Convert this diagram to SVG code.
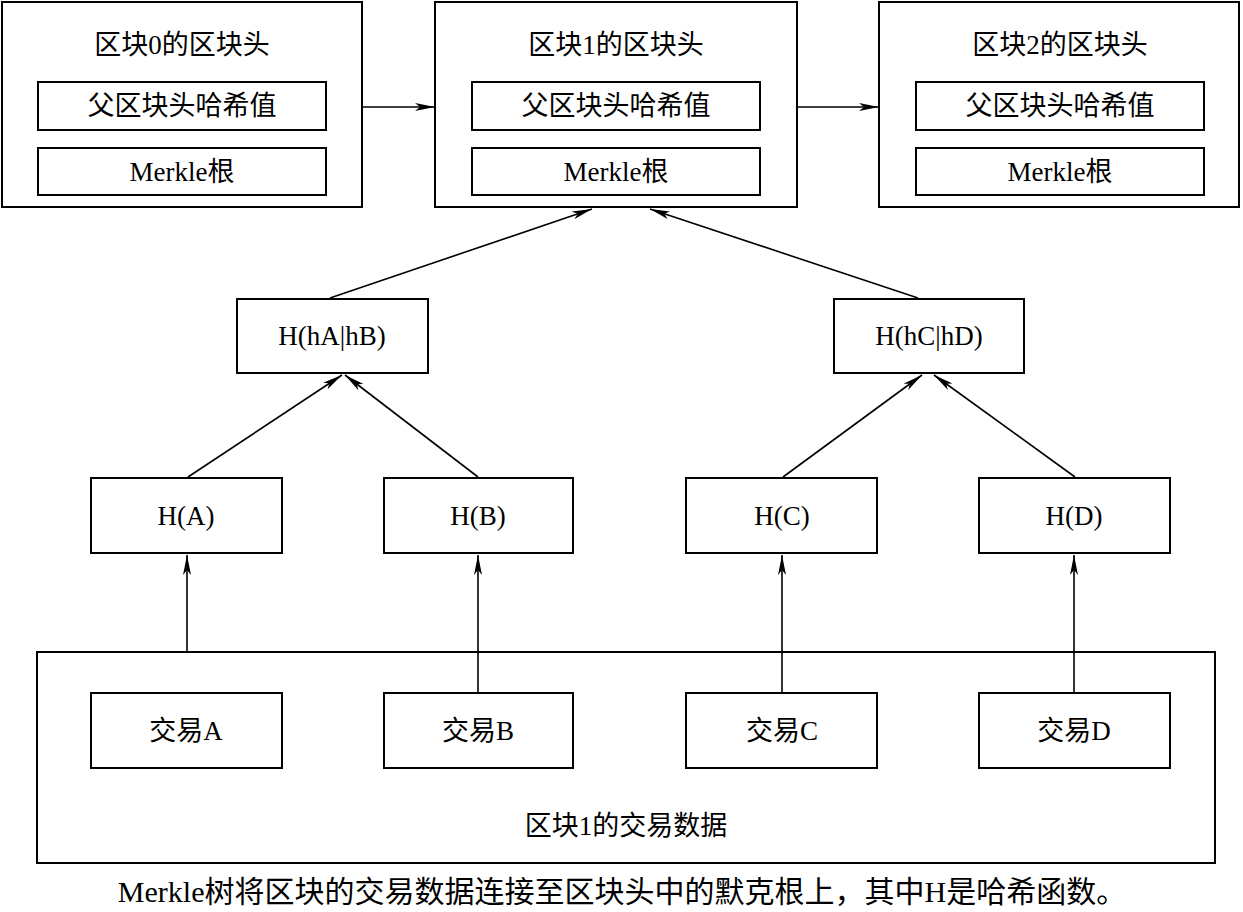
<svg xmlns="http://www.w3.org/2000/svg" width="1243" height="912" viewBox="0 0 1243 912">
<style>
rect{fill:#fff;stroke:#000;stroke-width:2}
text{font-family:"Liberation Serif","Noto Sans CJK SC",serif;font-size:27px;text-anchor:middle;dominant-baseline:central;fill:#000}
.c line{stroke:#000;stroke-width:1.6;marker-end:url(#a)}
</style>
<defs><marker id="a" viewBox="0 0 20 8" refX="20" refY="4" markerWidth="20" markerHeight="8" markerUnits="userSpaceOnUse" orient="auto"><path d="M0,0L20,4L0,8L5,4Z" fill="#000"/></marker></defs>
<rect width="1243" height="912" style="stroke:none"/>
<g id="b0"><rect x="2" y="2" width="360" height="205"/><text x="182" y="45">区块0的区块头</text>
<rect x="38" y="82" width="288" height="48"/><text x="182" y="106">父区块头哈希值</text>
<rect x="38" y="148" width="288" height="47"/><text x="182" y="172">Merkle根</text></g>
<g id="b1"><rect x="435" y="2" width="362" height="205"/><text x="616" y="45">区块1的区块头</text>
<rect x="472" y="82" width="288" height="48"/><text x="616" y="106">父区块头哈希值</text>
<rect x="472" y="148" width="288" height="47"/><text x="616" y="172">Merkle根</text></g>
<g id="b2"><rect x="879" y="2" width="360" height="205"/><text x="1060" y="45">区块2的区块头</text>
<rect x="916" y="82" width="288" height="48"/><text x="1060" y="106">父区块头哈希值</text>
<rect x="916" y="148" width="288" height="47"/><text x="1060" y="172">Merkle根</text></g>
<g id="hab"><rect x="237" y="299" width="191" height="74"/><text x="332" y="336">H(hA|hB)</text></g>
<g id="hcd"><rect x="834" y="299" width="190" height="74"/><text x="929" y="336">H(hC|hD)</text></g>
<g id="ha"><rect x="91" y="478" width="191" height="75"/><text x="186" y="516">H(A)</text></g>
<g id="hb"><rect x="384" y="478" width="189" height="75"/><text x="478" y="516">H(B)</text></g>
<g id="hc"><rect x="686" y="478" width="191" height="75"/><text x="782" y="516">H(C)</text></g>
<g id="hd"><rect x="979" y="478" width="191" height="75"/><text x="1074" y="516">H(D)</text></g>
<g id="data"><rect x="37" y="652" width="1178" height="211"/><text x="626" y="826">区块1的交易数据</text></g>
<g id="ta"><rect x="91" y="693" width="191" height="75"/><text x="186" y="731">交易A</text></g>
<g id="tb"><rect x="384" y="693" width="189" height="75"/><text x="478" y="731">交易B</text></g>
<g id="tc"><rect x="686" y="693" width="191" height="75"/><text x="782" y="731">交易C</text></g>
<g id="td"><rect x="979" y="693" width="191" height="75"/><text x="1074" y="731">交易D</text></g>
<g class="c">
<line x1="362" y1="107" x2="435" y2="107"/>
<line x1="797" y1="107" x2="879" y2="107"/>
<line x1="330" y1="298" x2="592" y2="209"/>
<line x1="918" y1="298" x2="650" y2="209"/>
<line x1="188" y1="477" x2="342" y2="375"/>
<line x1="478" y1="477" x2="345" y2="375"/>
<line x1="783" y1="477" x2="922" y2="375"/>
<line x1="1075" y1="477" x2="934" y2="375"/>
<line x1="187" y1="652" x2="187" y2="555"/>
<line x1="478" y1="693" x2="478" y2="555"/>
<line x1="782" y1="693" x2="782" y2="555"/>
<line x1="1074" y1="693" x2="1074" y2="555"/>
</g>
<text x="622" y="891" style="font-size:30px">Merkle树将区块的交易数据连接至区块头中的默克根上，其中H是哈希函数。</text>
</svg>
